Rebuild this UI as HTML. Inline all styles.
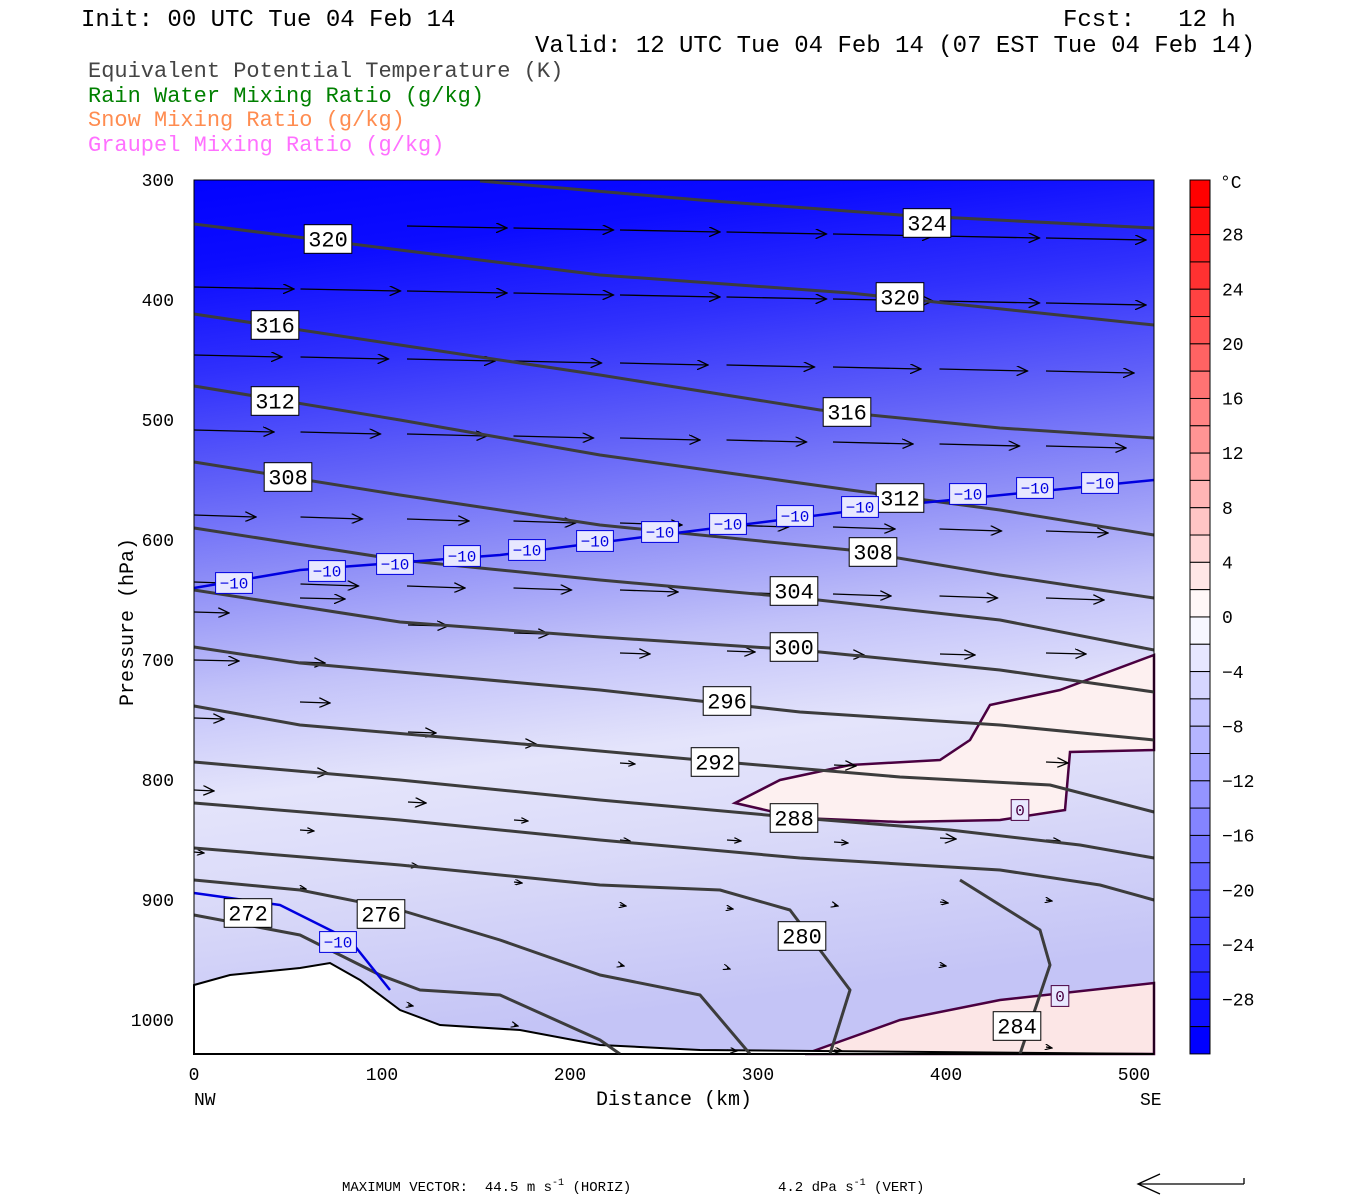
<!DOCTYPE html>
<html><head><meta charset="utf-8"><style>
body{margin:0;background:#fff;width:1350px;height:1200px;overflow:hidden}
svg{display:block}
text{font-family:"Liberation Mono",monospace;white-space:pre}
</style></head><body>
<svg id="s" width="1350" height="1200" xmlns="http://www.w3.org/2000/svg">
<defs>
<linearGradient id="bg" gradientUnits="userSpaceOnUse" x1="194" y1="180" x2="300" y2="1054">
<stop offset="0" stop-color="#0202ff"/>
<stop offset="0.1" stop-color="#0c0cff"/>
<stop offset="0.22" stop-color="#3030fc"/>
<stop offset="0.35" stop-color="#6262f8"/>
<stop offset="0.47" stop-color="#9494f7"/>
<stop offset="0.58" stop-color="#c2c2f9"/>
<stop offset="0.7" stop-color="#e4e4fb"/>
<stop offset="0.8" stop-color="#dcdcf9"/>
<stop offset="1" stop-color="#c4c4f6"/>
</linearGradient>
<marker id="ah" markerWidth="12" markerHeight="10" refX="11" refY="5" orient="auto" markerUnits="userSpaceOnUse"><path d="M0,0 L11,5 L0,10" fill="none" stroke="#000" stroke-width="1.3"/></marker>
<marker id="ah2" markerWidth="8" markerHeight="6" refX="7" refY="3" orient="auto" markerUnits="userSpaceOnUse"><path d="M0,0 L7,3 L0,6" fill="none" stroke="#000" stroke-width="1.2"/></marker>
</defs>
<text x="81" y="26" font-size="24">Init: 00 UTC Tue 04 Feb 14</text>
<text x="1063" y="26" font-size="24">Fcst:   12 h</text>
<text x="535" y="52" font-size="24">Valid: 12 UTC Tue 04 Feb 14 (07 EST Tue 04 Feb 14)</text>
<text x="88" y="77" font-size="22" fill="#444">Equivalent Potential Temperature (K)</text>
<text x="88" y="102" font-size="22" fill="#008000">Rain Water Mixing Ratio (g/kg)</text>
<text x="88" y="126" font-size="22" fill="#ff8c50">Snow Mixing Ratio (g/kg)</text>
<text x="88" y="151" font-size="22" fill="#ff70ff">Graupel Mixing Ratio (g/kg)</text>
<g id="plot">
<rect x="194" y="180" width="960" height="874" fill="url(#bg)"/>
<path d="M735,803 L780,780 850,765 940,760 970,740 990,705 1060,690 1154,655 1154,750 1070,752 1065,810 1000,820 900,822 800,818 Z" fill="#fdf0f0" stroke="#4a0040" stroke-width="2.5"/>
<path d="M805,1054 L900,1020 1000,1000 1154,983 1154,1054 Z" fill="#fce6e6" stroke="#4a0040" stroke-width="2.5"/>
<path d="M194,985 L230,975 300,968 330,963 360,980 400,1010 440,1025 520,1030 600,1045 700,1050 1154,1054 194,1054 Z" fill="#fff" stroke="#000" stroke-width="2"/>
</g>
<g id="arr"></g>
<g id="cont" fill="none" stroke="#3c3c3c" stroke-width="3" stroke-linejoin="round"></g>
<g id="labs"></g>
<rect x="194" y="180" width="960" height="874" fill="none" stroke="#000" stroke-width="1"/>
<g id="ax" font-size="18"></g>
<g id="cb"></g>
<text x="141" y="630" font-size="20" transform="rotate(-90 133 630)" text-anchor="middle">Pressure (hPa)</text>
<text x="674" y="1105" font-size="20" text-anchor="middle">Distance (km)</text>
<text x="194" y="1105" font-size="18">NW</text>
<text x="1140" y="1105" font-size="18">SE</text>
<text x="342" y="1191" font-size="14">MAXIMUM VECTOR:  44.5 m s<tspan dy="-6" font-size="10">-1</tspan><tspan dy="6"> (HORIZ)</tspan></text>
<text x="778" y="1191" font-size="14">4.2 dPa s<tspan dy="-6" font-size="10">-1</tspan><tspan dy="6"> (VERT)</tspan></text>
<path d="M1244,1184 L1138,1184 M1160,1174 L1138,1184 1160,1194 M1244,1184 L1244,1178" fill="none" stroke="#000" stroke-width="1.3"/>
</svg>
<script>
var NS="http://www.w3.org/2000/svg";
function el(p,t,a,txt){var e=document.createElementNS(NS,t);for(var k in a)e.setAttribute(k,a[k]);if(txt!=null)e.textContent=txt;document.getElementById(p).appendChild(e);return e;}
[300,400,500,600,700,800,900,1000].forEach(function(p){var y=180+(p-300)*1.2;el('ax','text',{x:174,y:y+6,'text-anchor':'end'},p);});
[0,100,200,300,400,500].forEach(function(d){var x=194+d*1.88;el('ax','text',{x:x,y:1080,'text-anchor':'middle'},d);});
for(var i=0;i<32;i++){var v=32-2*i-1,c;
 if(v>0){var t=v/31;var g=Math.round(255*(1-t));c='rgb(255,'+g+','+g+')';}
 else{var t=-v/31;var g=Math.round(255*(1-t));c='rgb('+g+','+g+',255)';}
 el('cb','rect',{x:1190,y:180+i*27.31,width:20,height:27.31,fill:c,stroke:'#000','stroke-width':1});}
el('cb','text',{x:1220,y:188,'font-size':18},'°C');
for(var v=28;v>=-28;v-=4){var y=180+(32-v)*13.66;el('cb','text',{x:1222,y:y+6,'font-size':18},(v<0?'−':'')+Math.abs(v));}
var rows=[[222,100],[287,100],[355,88],[430,80],[515,62],[582,58]];
rows.forEach(function(r,j){for(var k=0;k<10;k++){var x=194+k*106.5;var y=r[0]+k*2;var L=r[1];
 if(j==0&&k<2)continue; if(x+L>1150)L=1150-x; if(L<10)continue;
 el('arr','line',{x1:x,y1:y,x2:x+L,y2:y+2,stroke:'#000','stroke-width':1.3,'marker-end':'url(#ah)'});}});
var low=[[194,612,35],[300,598,45],[408,625,40],[514,633,35],[620,653,30],[727,651,28],[834,654,30],[940,654,35],[1046,653,40],
[194,660,45],[300,662,25],[194,718,30],[300,702,30],[408,732,28],[514,743,22],[620,763,15],[727,763,12],[834,765,22],[1046,762,22],
[194,790,20],[300,772,28],[408,802,18],[514,820,14],[620,840,10],[727,840,14],[834,842,14],[940,838,16],[1046,840,14],
[300,830,14],[408,865,10],[514,882,8],[620,905,6],[727,908,6],[834,905,4],[940,902,8],[1046,900,6],
[300,888,6],[194,852,10],[620,965,4],[727,968,3],[940,965,6],[408,1005,5],[514,1025,4],[727,1050,10],[834,1050,8],[1046,1047,6]];
low.forEach(function(a){el('arr','line',{x1:a[0],y1:a[1],x2:a[0]+a[2],y2:a[1]+1,stroke:'#000','stroke-width':1.2,'marker-end':a[2]>15?'url(#ah)':'url(#ah2)'});});
var C=[
[[480,181],[700,200],[900,215],[1154,228]],
[[194,224],[400,250],[600,275],[850,293],[1154,325]],
[[194,314],[400,345],[600,375],[820,410],[1000,428],[1154,438]],
[[194,386],[400,420],[600,455],[850,490],[1000,510],[1154,535]],
[[194,462],[400,495],[600,525],[850,550],[1000,575],[1154,598]],
[[194,528],[400,560],[600,580],[800,598],[1000,620],[1154,650]],
[[194,590],[400,622],[600,637],[800,650],[1000,670],[1154,692]],
[[194,647],[300,663],[400,672],[600,690],[800,712],[1000,725],[1154,740]],
[[194,706],[300,725],[500,742],[700,760],[900,777],[1050,785],[1154,812]],
[[194,762],[400,780],[600,800],[800,818],[950,830],[1080,845],[1154,858]],
[[194,803],[400,820],[600,840],[800,858],[1000,870],[1100,885],[1154,900]],
[[194,848],[400,865],[600,885],[720,890],[790,910],[850,990],[830,1054]],
[[194,880],[300,890],[400,910],[500,940],[600,975],[700,995],[750,1054]],
[[194,915],[300,935],[380,975],[420,990],[500,995],[600,1040],[620,1054]],
[[960,880],[1040,930],[1050,965],[1020,1054]]];
C.forEach(function(c){el('cont','polyline',{points:c.join(' ')});});
el('cont','polyline',{points:'194,588 300,570 500,555 700,530 900,505 1154,480',stroke:'#0000e0','stroke-width':2.5});
el('cont','polyline',{points:'194,893 280,905 350,940 390,990',stroke:'#0000e0','stroke-width':2.5});
function lab(x,y,t,col,fs,w){var W=w||t.length*(fs*0.6)+8;el('labs','rect',{x:x-W/2,y:y-fs*0.65,width:W,height:fs*1.3,fill:col?'#e8e8ff':'#fff',stroke:col||'#000','stroke-width':1});
 el('labs','text',{x:x,y:y+fs*0.35,'text-anchor':'middle','font-size':fs,fill:col||'#000'},t);}
[[927,223,'324'],[328,239,'320'],[900,297,'320'],[275,325,'316'],[847,412,'316'],[275,401,'312'],[900,498,'312'],[288,477,'308'],[873,552,'308'],[794,591,'304'],[794,647,'300'],[727,701,'296'],[715,762,'292'],[794,818,'288'],[802,936,'280'],[381,914,'276'],[248,913,'272'],[1017,1026,'284']].forEach(function(l){lab(l[0],l[1],l[2],null,22);});
[[234,583],[327,571],[395,564],[462,556],[527,550],[595,541],[660,532],[728,524],[795,516],[860,507],[968,494],[1035,488],[1100,483],[338,942]].forEach(function(l){lab(l[0],l[1],'−10','#0000e0',16);});
lab(1020,810,'0','#4a0040',16);lab(1060,996,'0','#4a0040',16);
</script>
</body></html>
